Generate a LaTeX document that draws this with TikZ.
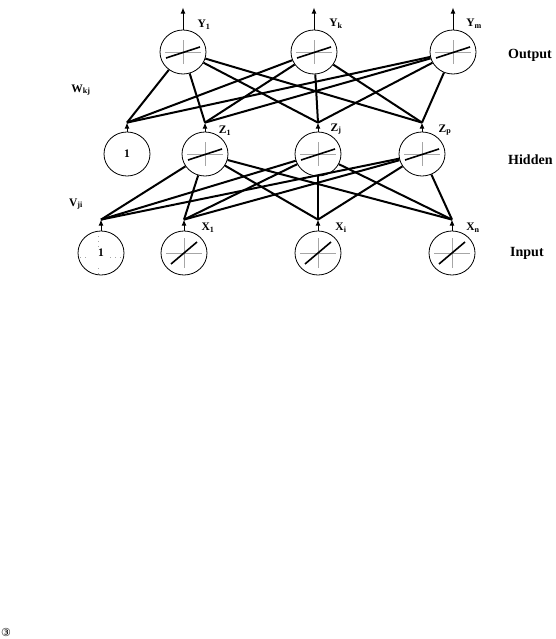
\documentclass[tikz,border=0pt]{standalone}
\usepackage{fontspec}
\setmainfont{Liberation Serif}
\newfontfamily\circfont{DejaVu Sans}
\usetikzlibrary{arrows.meta, shapes.geometric}

\begin{document}
\begin{tikzpicture}[
  x=1pt, y=-1pt, >={Latex[length=6pt, width=5pt]},
  lab/.style={font=\bfseries\fontsize{11.5}{13}\selectfont, inner sep=0pt},
  lay/.style={font=\bfseries\fontsize{14}{16}\selectfont, inner sep=0pt, anchor=west},
  neu/.style={draw, ellipse, minimum width=46pt, minimum height=44pt, inner sep=0pt, line width=0.8pt},
  cross/.style={draw=black!35, line width=0.5pt},
  lin/.style={neu, path picture={
    \draw[cross, shift={(path picture bounding box.center)}] (-18pt,0pt) -- (18pt,0pt) (0pt,-12pt) -- (0pt,12pt);
    \draw[line width=1.6pt, shift={(path picture bounding box.center)}] (-17pt,-6pt) -- (17pt,5pt);}},
  idn/.style={neu, path picture={
    \draw[cross, shift={(path picture bounding box.center)}] (-18pt,0pt) -- (18pt,0pt) (0pt,-15pt) -- (0pt,15pt);
    \draw[line width=1.6pt, shift={(path picture bounding box.center)}] (-13pt,-11pt) -- (13pt,11pt);}},
  bias/.style={neu, font=\bfseries\fontsize{11.5}{13}\selectfont},
  bin/.style={bias, path picture={
    \draw[cross, dash pattern=on 1pt off 4pt, shift={(path picture bounding box.center)}]
      (-23pt,0pt) -- (-12pt,0pt) (12pt,0pt) -- (23pt,0pt) (0pt,-22pt) -- (0pt,-10pt) (0pt,10pt) -- (0pt,22pt);}},
  wire/.style={line width=2pt},
  stem/.style={->, line width=0.9pt},
]
  \useasboundingbox (0,0) rectangle (555,639);

  % output layer
  \node[lin] (y1) at (183,52) {};
  \node[lin] (yk) at (314,52) {};
  \node[lin] (ym) at (453,52) {};
  % hidden layer
  \node[bias] (hb) at (127,154) {1};
  \node[lin] (z1) at (205,154) {};
  \node[lin] (zj) at (318,154) {};
  \node[lin] (zp) at (422,154) {};
  % input layer
  \node[bin] (ib) at (101,253) {1};
  \node[idn] (x1) at (184,253) {};
  \node[idn] (xi) at (318,253) {};
  \node[idn] (xn) at (452,253) {};

  % outputs and junctions
  \foreach \n in {y1,yk,ym} {
    \coordinate (o\n) at ([yshift=22pt]\n.north);
    \draw[stem] (\n) -- (o\n);
  }
  \foreach \n in {hb,z1,zj,zp} {
    \coordinate (j\n) at ([yshift=9pt]\n.north);
    \draw[stem] (\n) -- (j\n);
  }
  \foreach \n in {ib,x1,xi,xn} {
    \coordinate (j\n) at ([yshift=11pt]\n.north);
    \draw[stem] (\n) -- (j\n);
  }

  % weights W and V
  \foreach \s in {hb,z1,zj,zp}
    \foreach \t in {y1,yk,ym}
      \draw[wire] (j\s) -- (\t);
  \foreach \s in {ib,x1,xi,xn}
    \foreach \t in {z1,zj,zp}
      \draw[wire] (j\s) -- (\t);

  % labels
  \node[lab] (ly1) at (204,25) {Y\textsubscript{1}};
  \node[lab] (lyk) at (336,24) {Y\textsubscript{k}};
  \node[lab] (lym) at (474,24) {Y\textsubscript{m}};
  \node[lab] (lw) at (81,90) {W\textsubscript{kj}};
  \node[lab] (lz1) at (225,131) {Z\textsubscript{1}};
  \node[lab] (lzj) at (336,129) {Z\textsubscript{j}};
  \node[lab] (lzp) at (445,130) {Z\textsubscript{p}};
  \node[lab] (lv) at (76,204) {V\textsubscript{ji}};
  \node[lab] (lx1) at (208,228) {X\textsubscript{1}};
  \node[lab] (lxi) at (341,228) {X\textsubscript{i}};
  \node[lab] (lxn) at (473,228) {X\textsubscript{n}};
  \node[lay] (out) at (508,55) {Output};
  \node[lay] (hid) at (508,160) {Hidden};
  \node[lay] (inp) at (510,253) {Input};

  \node[font=\circfont\fontsize{11}{12}\selectfont, inner sep=0pt] (nr) at (6,632) {③};
\end{tikzpicture}
\end{document}
